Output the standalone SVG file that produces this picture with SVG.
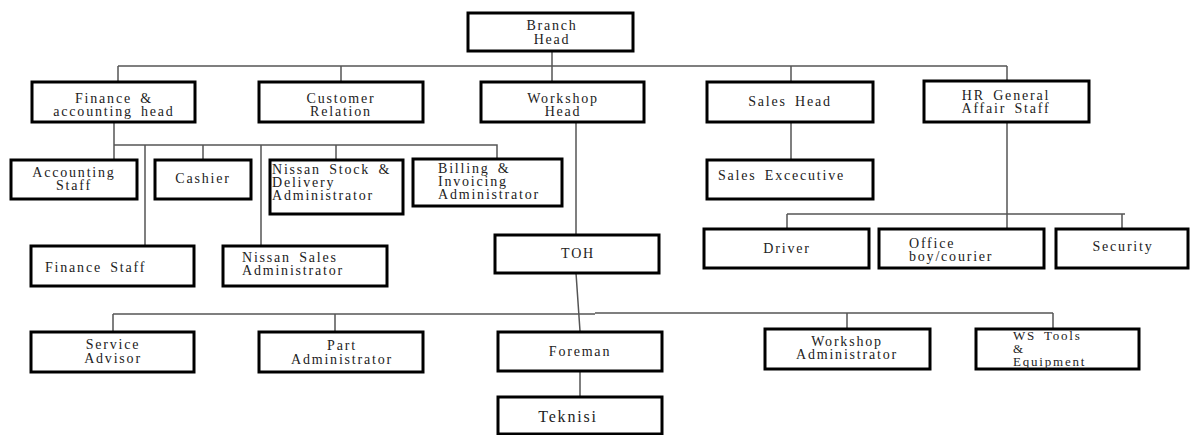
<svg xmlns="http://www.w3.org/2000/svg" width="1196" height="435" viewBox="0 0 1196 435">
<style>
.box{fill:#fff;stroke:#000;stroke-width:3}
.t{font-family:'Liberation Serif','DejaVu Serif','Times New Roman',serif;font-size:14px;letter-spacing:1.8px;word-spacing:3px;fill:#222}
.c{text-anchor:middle}
.ln{stroke:#555;stroke-width:1.5;fill:none}
</style>
<rect width="1196" height="435" fill="#fff"/>
<g id="connectors">
<path class="ln" d="M552 51V66M118 66H1007M118 66V82M341 66V82M552 66V82M791 66V82M1007 66V81"/>
<path class="ln" d="M114 122V145H497V159M114 145V160M145 145V246M203 145V160M261 145V246M336 145V160"/>
<path class="ln" d="M576 122V235M576 273L580 331M113 314H595M595 313H1053M113 314V332M335 314V332M847 313V329M1053 313V329M580 371V397"/>
<path class="ln" d="M791 122V160M1007 122V229M787 214H1125M787 214V229M1122 214V229"/>
</g>
<g id="branch-head"><rect class="box" x="468" y="13" width="165" height="38"/><text class="t c" x="552" y="30">Branch</text><text class="t c" x="552" y="44">Head</text></g>
<g id="finance-head"><rect class="box" x="32" y="82" width="163" height="40"/><text class="t c" x="114" y="103">Finance  &amp;</text><text class="t c" x="114" y="116">accounting  head</text></g>
<g id="customer-relation"><rect class="box" x="259" y="82" width="164" height="40"/><text class="t c" x="341" y="103">Customer</text><text class="t c" x="341" y="116">Relation</text></g>
<g id="workshop-head"><rect class="box" x="481" y="82" width="163" height="40"/><text class="t c" x="563" y="103">Workshop</text><text class="t c" x="563" y="116">Head</text></g>
<g id="sales-head"><rect class="box" x="707" y="82" width="166" height="40"/><text class="t c" x="790" y="106">Sales Head</text></g>
<g id="hr-staff"><rect class="box" x="924" y="81" width="165" height="41"/><text class="t c" x="1006" y="100">HR General</text><text class="t c" x="1006" y="113">Affair  Staff</text></g>
<g id="accounting-staff"><rect class="box" x="11" y="160" width="126" height="39"/><text class="t c" x="74" y="177">Accounting</text><text class="t c" x="74" y="190">Staff</text></g>
<g id="cashier"><rect class="box" x="155" y="160" width="96" height="39"/><text class="t c" x="203" y="183">Cashier</text></g>
<g id="nissan-stock"><rect class="box" x="270" y="160" width="133" height="54"/><text class="t" x="272" y="174">Nissan Stock &amp;</text><text class="t" x="272" y="187">Delivery</text><text class="t" x="272" y="200">Administrator</text></g>
<g id="billing"><rect class="box" x="413" y="159" width="149" height="47"/><text class="t" x="438" y="173">Billing  &amp;</text><text class="t" x="438" y="186">Invoicing</text><text class="t" x="438" y="199">Administrator</text></g>
<g id="finance-staff"><rect class="box" x="31" y="246" width="163" height="40"/><text class="t" x="45" y="272">Finance  Staff</text></g>
<g id="nissan-sales"><rect class="box" x="223" y="246" width="164" height="40"/><text class="t" x="242" y="262">Nissan Sales</text><text class="t" x="242" y="275">Administrator</text></g>
<g id="sales-executive"><rect class="box" x="707" y="160" width="166" height="39"/><text class="t" x="718" y="180">Sales Excecutive</text></g>
<g id="driver"><rect class="box" x="704" y="229" width="165" height="39"/><text class="t c" x="787" y="253">Driver</text></g>
<g id="office-boy"><rect class="box" x="879" y="229" width="165" height="39"/><text class="t" x="909" y="248">Office</text><text class="t" x="909" y="261">boy/courier</text></g>
<g id="security"><rect class="box" x="1056" y="229" width="132" height="39"/><text class="t c" x="1123" y="251">Security</text></g>
<g id="toh"><rect class="box" x="495" y="235" width="164" height="38"/><text class="t c" x="578" y="258">TOH</text></g>
<g id="service-advisor"><rect class="box" x="31" y="332" width="163" height="40"/><text class="t c" x="113" y="349">Service</text><text class="t c" x="113" y="363">Advisor</text></g>
<g id="part-admin"><rect class="box" x="259" y="332" width="164" height="40"/><text class="t c" x="342" y="350">Part</text><text class="t c" x="342" y="364">Administrator</text></g>
<g id="foreman"><rect class="box" x="498" y="332" width="164" height="39"/><text class="t c" x="580" y="356">Foreman</text></g>
<g id="teknisi"><rect class="box" x="498" y="397" width="164" height="37"/><text class="t c" x="568" y="422" style="font-size:16px">Teknisi</text></g>
<g id="workshop-admin"><rect class="box" x="765" y="329" width="165" height="40"/><text class="t c" x="847" y="346">Workshop</text><text class="t c" x="847" y="359">Administrator</text></g>
<g id="ws-tools"><rect class="box" x="976" y="329" width="163" height="40"/><text class="t" x="1013" y="340" style="font-size:13px">WS Tools</text><text class="t" x="1013" y="353" style="font-size:13px">&amp;</text><text class="t" x="1013" y="366" style="font-size:13px">Equipment</text></g>
</svg>
